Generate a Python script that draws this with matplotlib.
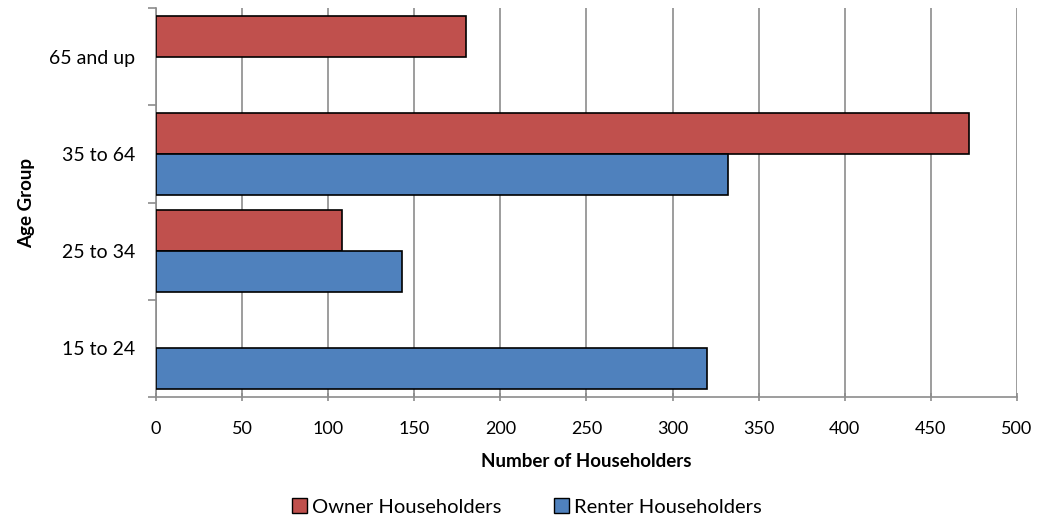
import numpy as np
import matplotlib
matplotlib.use("Agg")
import matplotlib.pyplot as plt
from matplotlib.patches import Patch

plt.rcParams['font.family'] = ['Lato', 'DejaVu Sans']

# data
grupos = ['15 to 24', '25 to 34', '35 to 64', '65 and up']
propietarios = [0, 108, 472, 180]
arrendatarios = [320, 143, 332, 0]
ticks_x = [0, 50, 100, 150, 200, 250, 300, 350, 400, 450, 500]

rojo = '#C0504D'
azul = '#4F81BD'
gris = '#8c8c8c'

fig = plt.figure(figsize=(10.44, 5.2), dpi=100)
ax = fig.add_axes([0.1494, 0.2365, 0.8247, 0.7481])

y = np.arange(len(grupos))
alto = 0.42
for i in range(len(grupos)):
    # skip zero bars, excel draws nothing there
    if propietarios[i] > 0:
        ax.barh(y[i] + alto / 2, propietarios[i], height=alto, color=rojo,
                edgecolor='black', linewidth=1.2, zorder=3)
    if arrendatarios[i] > 0:
        ax.barh(y[i] - alto / 2, arrendatarios[i], height=alto, color=azul,
                edgecolor='black', linewidth=1.2, zorder=3)

ax.set_xlim(0, 500)
ax.set_ylim(-0.5, len(grupos) - 0.5)
ax.set_xticks(ticks_x)
ax.set_xticklabels([str(t) for t in ticks_x], fontsize=13)
ax.set_yticks(y)
ax.set_yticklabels(grupos, fontsize=14)
ax.set_yticks(np.arange(len(grupos) + 1) - 0.5, minor=True)

ax.tick_params(axis='y', which='major', length=0, pad=15)
ax.tick_params(axis='y', which='minor', length=6, color=gris, width=1.2)
ax.tick_params(axis='x', which='major', length=6, color=gris, width=1.2,
               direction='inout', pad=14)

ax.grid(axis='x', color=gris, linewidth=1.2, zorder=0)
for lado in ['top', 'right']:
    ax.spines[lado].set_visible(False)
for lado in ['left', 'bottom']:
    ax.spines[lado].set_color(gris)
    ax.spines[lado].set_linewidth(1.2)

ax.set_xlabel('Number of Householders', fontsize=13.5, fontweight='bold', labelpad=12)
ax.set_ylabel('Age Group', fontsize=13.5, fontweight='bold', labelpad=10)

manejadores = [Patch(facecolor=rojo, edgecolor='black', label='Owner Householders'),
               Patch(facecolor=azul, edgecolor='black', label='Renter Householders')]
fig.legend(handles=manejadores, loc='center', bbox_to_anchor=(0.505, 0.025), ncol=2,
           frameon=False, fontsize=14.5, handlelength=0.75, handleheight=0.75,
           handletextpad=0.25, columnspacing=2.6)

fig.savefig('out.png', dpi=100)
